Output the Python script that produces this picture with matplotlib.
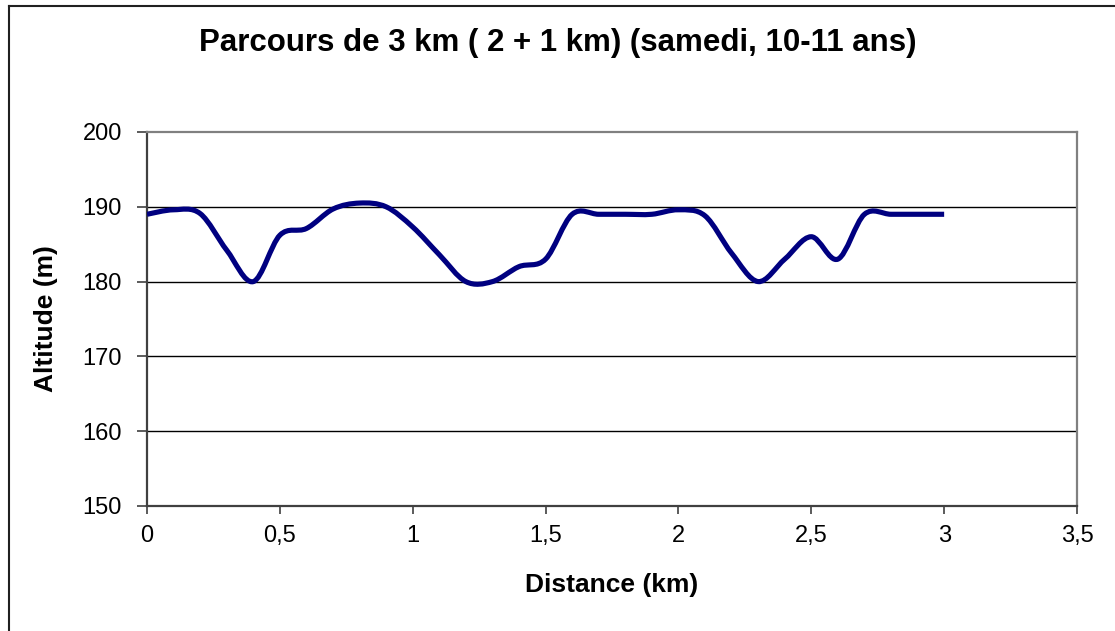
import matplotlib
matplotlib.use("Agg")
import matplotlib.pyplot as plt
from matplotlib.path import Path
from matplotlib.patches import PathPatch
from matplotlib.lines import Line2D
from matplotlib.ticker import FuncFormatter, MultipleLocator

plt.rcParams['font.family'] = ['Liberation Sans', 'DejaVu Sans']

# Data (km, m)
distance_km = [0.0, 0.1, 0.2, 0.3, 0.4, 0.5, 0.6, 0.7, 0.8, 0.9,
               1.0, 1.1, 1.2, 1.3, 1.4, 1.5, 1.6, 1.7, 1.8, 1.9,
               2.0, 2.1, 2.2, 2.3, 2.4, 2.5, 2.6, 2.7, 2.8, 2.9, 3.0]
altitude_m = [189, 189.6, 189.1, 184.2, 180, 186.2, 187.1, 189.7, 190.5, 190,
              187.3, 183.6, 180, 180, 182, 183, 189, 189, 189, 189,
              189.6, 188.8, 183.8, 180, 183, 186, 183, 189, 189, 189, 189]

title = "Parcours de 3 km ( 2 + 1 km) (samedi, 10-11 ans)"
xlabel = "Distance (km)"
ylabel = "Altitude (m)"

W, H = 1115, 631
fig = plt.figure(figsize=(W / 100, H / 100), dpi=100)
fig.patch.set_facecolor('white')

ax = fig.add_axes([147 / W, 1 - 506 / H, (1077 - 147) / W, (506 - 132) / H])
ax.set_xlim(0, 3.5)
ax.set_ylim(150, 200)

# Smoothed line (Bezier, like Excel smoothing)
pts = list(zip(distance_km, altitude_m))
n = len(pts)
verts = [pts[0]]
codes = [Path.MOVETO]
for i in range(n - 1):
    p0 = pts[i - 1] if i > 0 else pts[i]
    p1 = pts[i]
    p2 = pts[i + 1]
    p3 = pts[i + 2] if i + 2 < n else pts[i + 1]
    c1 = (p1[0] + (p2[0] - p0[0]) / 6, p1[1] + (p2[1] - p0[1]) / 6)
    c2 = (p2[0] - (p3[0] - p1[0]) / 6, p2[1] - (p3[1] - p1[1]) / 6)
    verts += [c1, c2, p2]
    codes += [Path.CURVE4] * 3
ax.add_patch(PathPatch(Path(verts, codes), facecolor='none',
                       edgecolor='#000080', linewidth=3.7,
                       capstyle='butt', joinstyle='round', zorder=3))

# Gridlines
for v in [160, 170, 180, 190]:
    ax.axhline(v, color='black', linewidth=1.0, zorder=1)

for side in ['left', 'bottom']:
    ax.spines[side].set_color('#404040')
    ax.spines[side].set_linewidth(1.6)
for side in ['top', 'right']:
    ax.spines[side].set_color('#808080')
    ax.spines[side].set_linewidth(1.6)

ax.xaxis.set_major_locator(MultipleLocator(0.5))
ax.yaxis.set_major_locator(MultipleLocator(10))


def fr(v, pos):
    return ('%g' % v).replace('.', ',')


ax.xaxis.set_major_formatter(FuncFormatter(fr))
ax.tick_params(axis='y', direction='out', length=7, width=1.2, color='#404040',
               labelsize=17, pad=11)
ax.tick_params(axis='x', direction='out', length=6, width=1.2, color='#404040',
               labelsize=17, pad=8)

ax.set_xlabel(xlabel, fontsize=19, fontweight='bold')
ax.set_ylabel(ylabel, fontsize=19, fontweight='bold')
ax.xaxis.set_label_coords(0.5, -0.18)
ax.yaxis.set_label_coords(-0.096, 0.5)

fig.text(0.5, 1 - 43 / H, title, ha='center', va='center',
         fontsize=22.5, fontweight='bold')

# Outer chart border (left and top visible)
fig.add_artist(Line2D([8.5 / W, 8.5 / W], [0, 1 - 5.5 / H], color='#202020',
                      linewidth=1.5, transform=fig.transFigure))
fig.add_artist(Line2D([8.5 / W, 1.0], [1 - 5.5 / H, 1 - 5.5 / H], color='#202020',
                      linewidth=1.5, transform=fig.transFigure))

fig.savefig('out.png', dpi=100)
